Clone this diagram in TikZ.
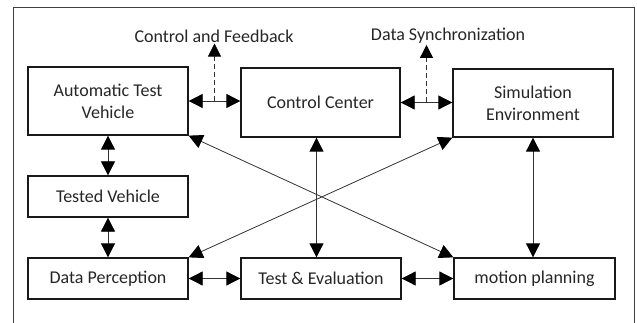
\documentclass[tikz,border=0pt]{standalone}
\usepackage{fontspec}
\setmainfont{Carlito}
\usetikzlibrary{arrows.meta,calc}
\begin{document}
\begin{tikzpicture}[x=1pt,y=-1pt,
  box/.style={draw=black!90,line width=1.3pt,rectangle,align=center,inner sep=2pt,
    font=\fontsize{18}{22}\selectfont,text=black!85},
  lbl/.style={inner sep=1pt,font=\fontsize{18}{22}\selectfont,text=black!85},
  arr/.style={draw=black!80,line width=0.8pt,{Triangle[length=14pt,width=14pt,color=black]}-{Triangle[length=14pt,width=14pt,color=black]}},
  darr/.style={draw=black!80,line width=0.8pt,dash pattern=on 5pt off 3pt,-{Triangle[length=13pt,width=13pt,color=black]}},
  frame/.style={draw=black!75,line width=1pt}]
\useasboundingbox (0,0) rectangle (637,323);
\draw[frame] (13,323) -- (13,8) -- (634,8) -- (634,323);
\node[box,minimum width=160pt,minimum height=68pt] (atv) at (108,101) {Automatic Test\\Vehicle};
\node[box,minimum width=159pt,minimum height=69pt] (cc) at (320.5,102.5) {Control Center};
\node[box,minimum width=160pt,minimum height=68pt] (se) at (533,103) {Simulation\\Environment};
\node[box,minimum width=160pt,minimum height=41pt] (tv) at (108,196.5) {Tested Vehicle};
\node[box,minimum width=160pt,minimum height=41pt] (dp) at (108,278.5) {Data Perception};
\node[box,minimum width=160pt,minimum height=41pt] (te) at (321,278.5) {Test \& Evaluation};
\node[box,minimum width=161pt,minimum height=41pt] (mp) at (534.5,278.5) {motion planning};
\node[lbl] (cf) at (214,36) {Control and Feedback};
\node[lbl] (ds) at (448,36) {Data Synchronization};
\draw[arr] (atv.east) -- (atv.east -| cc.west);
\draw[arr] (cc.east) -- (cc.east -| se.west);
\coordinate (m1) at ($(atv.east)!0.5!(atv.east -| cc.west)$);
\coordinate (m2) at ($(cc.east)!0.5!(cc.east -| se.west)$);
\draw[darr] (m1) -- (m1 |- cf.south);
\draw[darr] (m2) -- (m2 |- ds.south);
\draw[arr] (atv.south) -- (tv.north);
\draw[arr] (tv.south) -- (dp.north);
\draw[arr] (dp.east) -- (te.west);
\draw[arr] (te.east) -- (mp.west);
\draw[arr] ([xshift=-4pt]cc.south) -- ([xshift=-4pt]cc.south |- te.north);
\draw[arr] (se.south) -- (se.south |- mp.north);
\draw[arr] (atv.south east) -- (mp.north west);
\draw[arr] (se.south west) -- (dp.north east);
\end{tikzpicture}
\end{document}
